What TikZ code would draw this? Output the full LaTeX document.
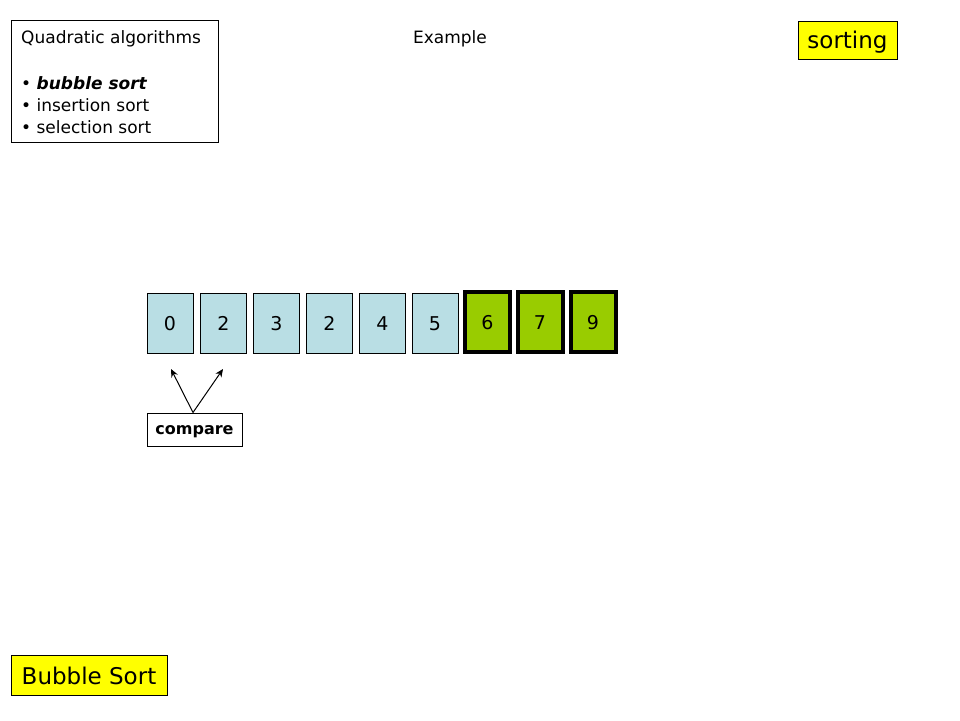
\documentclass[tikz,border=0pt]{standalone}
\usepackage{fontspec}
\setmainfont{DejaVu Sans}
\usetikzlibrary{arrows.meta}
\definecolor{cellblue}{HTML}{B9DEE4}
\definecolor{cellgreen}{HTML}{99CC00}
\definecolor{hiyellow}{HTML}{FFFF00}
\tikzset{
  frame/.style={draw=black, line width=0.8pt, inner sep=0pt},
  digit/.style={inner sep=0pt, text height=14pt, text depth=0pt, font=\fontsize{19}{22}\selectfont},
  cellbox/.style={draw=black, line width=0.7pt, fill=cellblue, minimum width=46pt, minimum height=60pt},
  donebox/.style={draw=black, line width=4pt, fill=cellgreen, minimum width=45pt, minimum height=60pt},
  txt/.style={inner sep=0pt, anchor=west, font=\fontsize{17}{20}\selectfont},
  ptr/.style={-{Stealth[length=8pt,width=7pt]}, line width=1pt},
}
\begin{document}
\begin{tikzpicture}[x=1pt,y=-1pt]
\useasboundingbox (0,0) rectangle (960,720);
% top-left list box
\node[frame, minimum width=207pt, minimum height=122pt, anchor=north west] (listbox) at (11,20) {};
\node[txt] (qa) at (21,39) {Quadratic algorithms};
\node[txt] (b1) at (21,83) {• \textbf{\textit{bubble sort}}};
\node[txt] (b2) at (21,105) {• insertion sort};
\node[txt] (b3) at (21,127) {• selection sort};
% title
\node[inner sep=0pt, font=\fontsize{17}{20}\selectfont] (ex) at (450,39) {Example};
% sorting tag
\node[frame, fill=hiyellow, minimum width=99pt, minimum height=38pt, anchor=north west] (sorting) at (798,21) {};
\node[inner sep=0pt, font=\fontsize{23}{26}\selectfont] (sortingtxt) at (847.5,42) {sorting};
% bubble sort tag
\node[frame, fill=hiyellow, minimum width=156pt, minimum height=40pt, anchor=north west] (bs) at (11,655) {};
\node[inner sep=0pt, font=\fontsize{23}{26}\selectfont] (bstxt) at (89,676) {Bubble Sort};
% cells
\node[digit, cellbox] (c1) at (170,323) {0};
\node[digit, cellbox] (c2) at (223.5,323) {2};
\node[digit, cellbox] (c3) at (276.5,323) {3};
\node[digit, cellbox] (c4) at (329.5,323) {2};
\node[digit, cellbox] (c5) at (382.5,323) {4};
\node[digit, cellbox] (c6) at (435,323) {5};
\node[digit, donebox] (c7) at (487.5,322) {6};
\node[digit, donebox] (c8) at (540,322) {7};
\node[digit, donebox] (c9) at (593,322) {9};
% compare
\node[frame, minimum width=95pt, minimum height=33pt] (cmp) at (194.5,429.5) {};
\node[inner sep=0pt, font=\bfseries\fontsize{16}{19}\selectfont] (cmptxt) at (194.5,432) {compare};
\coordinate (t1) at (171,369);
\coordinate (t2) at (223,369);
\coordinate (src) at (193,412.5);
\draw[ptr] (src) -- (t1);
\draw[ptr] (src) -- (t2);
\end{tikzpicture}
\end{document}
